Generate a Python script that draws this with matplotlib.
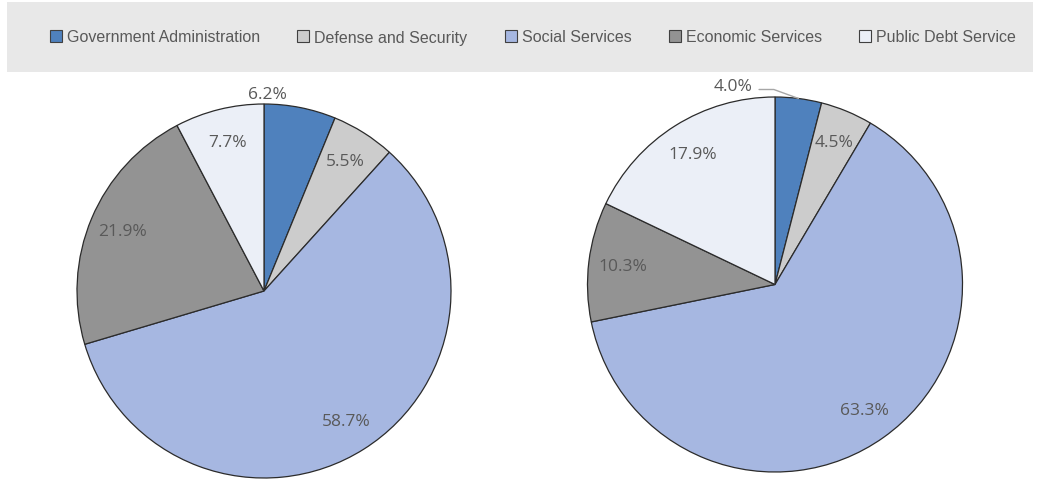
import matplotlib.pyplot as plt
from matplotlib.patches import Patch, Rectangle
import numpy as np

categories = ['Government Administration', 'Defense and Security', 'Social Services',
              'Economic Services', 'Public Debt Service']
colors = ['#4f81bd', '#cccccc', '#a6b7e1', '#939393', '#ebeff7']
share_left = [6.2, 5.5, 58.7, 21.9, 7.7]
share_right = [4.0, 4.5, 63.3, 10.3, 17.9]

W, H = 1041, 481
fig = plt.figure(figsize=(W / 100, H / 100), dpi=100)
txt = '#595959'
lab_font = ['Open Sans', 'DejaVu Sans']
lab_size = 12.5


def pie_axes(cx, cy, r):
    # pixel centre (from top) and radius -> axes box
    return fig.add_axes([(cx - r) / W, (H - cy - r) / H, 2 * r / W, 2 * r / H])


def draw_pie(ax, values, small_pos=None, leader=False):
    wedges, _ = ax.pie(values, colors=colors, startangle=90, counterclock=False,
                       radius=1.0,
                       wedgeprops=dict(edgecolor='#2b2b2b', linewidth=0.9))
    ax.set_xlim(-1, 1)
    ax.set_ylim(-1, 1)
    ax.set_aspect('equal')
    ax.axis('off')
    total = sum(values)
    start = 90.0
    for i, (w, v) in enumerate(zip(wedges, values)):
        mid = np.deg2rad(start - 360 * (v / 2) / total)
        start -= 360 * v / total
        label = f'{v:.1f}%'
        if i == 0 and small_pos is not None:
            ax.text(small_pos[0], small_pos[1], label, ha='center', va='center',
                    fontsize=lab_size, color=txt, family=lab_font, clip_on=False)
            if leader:
                ax.annotate('', xy=(np.cos(mid), np.sin(mid)),
                            xytext=(small_pos[0] + 0.14, small_pos[1] - 0.02),
                            arrowprops=dict(arrowstyle='-', color='#a6a6a6', lw=1.0,
                                            connectionstyle='angle,angleA=0,angleB=160,rad=0',
                                            shrinkA=0, shrinkB=0),
                            annotation_clip=False)
            continue
        ax.text(0.82 * np.cos(mid), 0.82 * np.sin(mid), label, ha='center', va='center',
                fontsize=lab_size, color=txt, family=lab_font)


ax1 = pie_axes(264, 292, 187)
draw_pie(ax1, share_left, small_pos=(0.02, 1.055))

ax2 = pie_axes(775, 285.5, 187.5)
draw_pie(ax2, share_right, small_pos=(-0.225, 1.06), leader=True)

# legend band across the top
fig.patches.append(Rectangle((7 / W, 1 - 73 / H), 1026 / W, 70 / H,
                             transform=fig.transFigure, facecolor='#e8e8e8',
                             edgecolor='none', zorder=0))
handles = [Patch(facecolor=c, edgecolor='#404040', linewidth=0.8) for c in colors]
fig.legend(handles, categories, loc='center', bbox_to_anchor=(533 / W, 1 - 38 / H),
           ncol=5, frameon=False, handlelength=0.75, handleheight=0.75,
           handletextpad=0.3, columnspacing=2.35, labelcolor=txt,
           prop=dict(family=['Liberation Sans', 'DejaVu Sans'], size=11.5))

fig.savefig('out.png', dpi=100)
